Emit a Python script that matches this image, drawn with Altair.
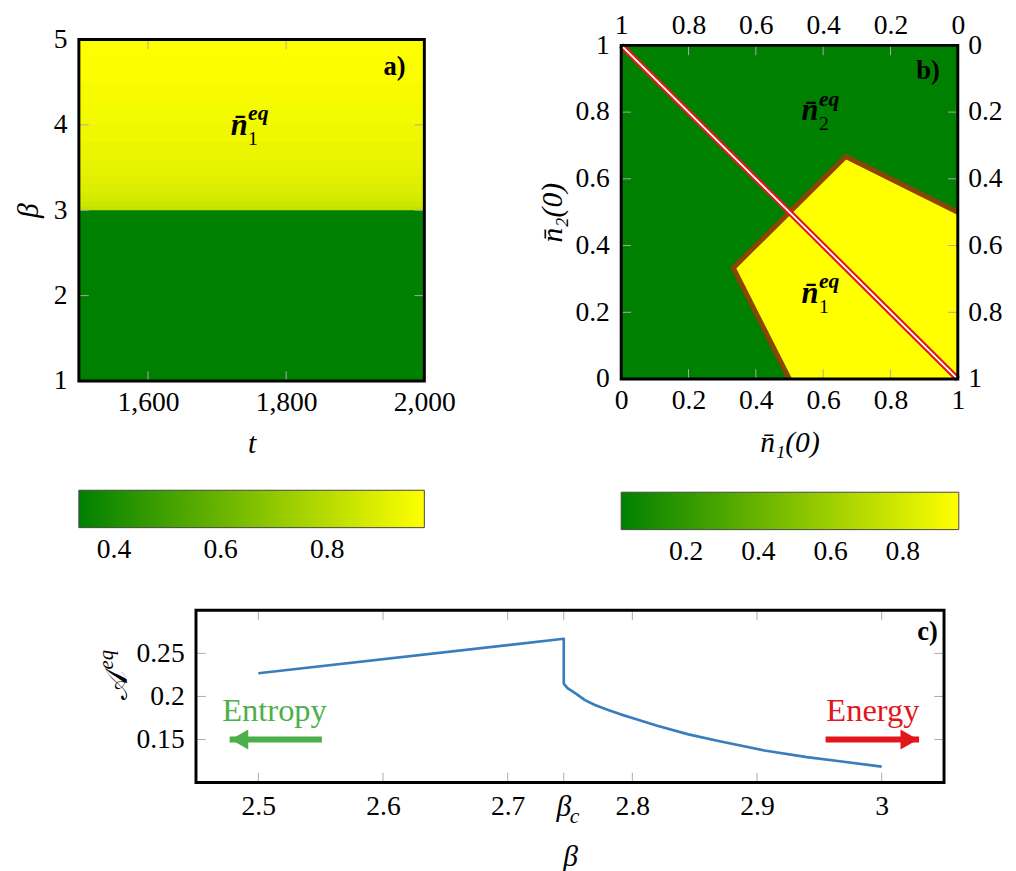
import altair as alt
import pandas as pd

FONT = "Liberation Serif"
GREEN = "#008000"
YELLOW = "#ffff00"
BROWN = "#8b4500"
RED = "#e3161c"
BLUE = "#3a7dbd"
ENT_GREEN = "#4daf4a"
TICK_GREY = "#aaaaaa"
LABEL_SIZE = 28

# ---------------- Panel a: n1_eq over (t, beta) ----------------
a_t_domain = [1500, 2000]
a_beta_domain = [1, 5]
a_low_beta = 1.0
a_low_n1 = 0.334
a_grad_beta = [3.0, 3.05, 3.1, 3.15, 3.2, 3.3, 3.4, 3.5, 3.6, 3.8, 4.0, 4.25, 4.5, 4.75]
a_grad_n1 = [0.835, 0.855, 0.868, 0.879, 0.89, 0.902, 0.913, 0.922, 0.932, 0.945, 0.955, 0.964, 0.972, 0.978]
a_cbar_domain = [0.334, 0.982]
a_cbar_ticks = [0.4, 0.6, 0.8]
a_x_ticks = [1600, 1800, 2000]
a_y_ticks = [1, 2, 3, 4, 5]
a_x_inner = [1600, 1800]
a_y_inner = [2, 3, 4]
a_label_pos = [1732, 3.88]
a_tag_pos = [1973, 4.58]

# ---------------- Panel b: basins over (n1(0), n2(0)) ----------------
b_domain = [0, 1]
b_region_x = [0.333, 0.5, 0.667, 1.0]
b_region_lo = [0.333, 0.0, 0.0, 0.0]
b_region_hi = [0.333, 0.5, 0.667, 0.5]
b_border_x = [0.5, 0.333, 0.667, 1.0]
b_border_y = [0.0, 0.333, 0.667, 0.5]
b_diag_x = [0.0, 1.0]
b_diag_y = [1.0, 0.0]
b_cbar_domain = [0.02, 0.955]
b_cbar_ticks = [0.2, 0.4, 0.6, 0.8]
b_ticks = [0, 0.2, 0.4, 0.6, 0.8, 1]
b_inner = [0.2, 0.4, 0.6, 0.8]
b_label2_pos = [0.561, 0.775]
b_label1_pos = [0.561, 0.228]
b_tag_pos = [0.947, 0.90]

# ---------------- Panel c: A_eq vs beta ----------------
c_beta = [2.5, 2.745, 2.745, 2.748, 2.755, 2.762, 2.77, 2.78, 2.79, 2.80, 2.82, 2.845, 2.87, 2.906, 2.94, 2.968, 3.0]
c_A = [0.227, 0.267, 0.215, 0.2097, 0.203, 0.1957, 0.190, 0.1845, 0.1795, 0.175, 0.166, 0.156, 0.148, 0.1372, 0.1295, 0.1245, 0.1185]
beta_c = 2.745
c_x_domain = [2.45, 3.05]
c_y_domain = [0.1, 0.3]
c_x_ticks = [2.5, 2.6, 2.7, 2.8, 2.9, 3.0]
c_x_inner = [2.5, 2.6, 2.7, 2.745, 2.8, 2.9, 3.0]
c_y_ticks = [0.15, 0.2, 0.25]
c_tag_pos = [3.045, 0.265]
entropy_arrow = {"from": 2.551, "to": 2.477, "y": 0.15}
energy_arrow = {"from": 2.955, "to": 3.03, "y": 0.15}
entropy_text = {"x": 2.513, "y": 0.171, "text": "Entropy"}
energy_text = {"x": 2.993, "y": 0.171, "text": "Energy"}

# ---------------- sizes ----------------
W_A, H_A = 351, 347
W_B, H_B = 342, 347          # group height of panel b
B_Y0, B_Y1 = 6, 345          # panel b frame sits between these pixel rows of its group
W_C, H_C = 760, 175
TICK_LEN = 10


def frame(w, y0, y1):
    return alt.Chart(pd.DataFrame({"d": [0]})).mark_rect(
        fillOpacity=0, stroke="black", strokeWidth=3
    ).encode(x=alt.value(0), x2=alt.value(w), y=alt.value(y0), y2=alt.value(y1))


def inner_ticks(vals, field_scale, orient, w, y0, y1):
    df = pd.DataFrame({"v": vals})
    base = alt.Chart(df).mark_rule(color=TICK_GREY, strokeWidth=1)
    if orient == "x":
        enc_bot = base.encode(x=alt.X("v:Q", scale=field_scale, axis=None),
                              y=alt.value(y1), y2=alt.value(y1 - TICK_LEN))
        enc_top = base.encode(x=alt.X("v:Q", scale=field_scale, axis=None),
                              y=alt.value(y0), y2=alt.value(y0 + TICK_LEN))
    else:
        enc_bot = base.encode(y=alt.Y("v:Q", scale=field_scale, axis=None),
                              x=alt.value(0), x2=alt.value(TICK_LEN))
        enc_top = base.encode(y=alt.Y("v:Q", scale=field_scale, axis=None),
                              x=alt.value(w), x2=alt.value(w - TICK_LEN))
    return [enc_bot, enc_top]


def text_at(pos, text, xs, ys, size, dx=0, dy=0, weight="bold", style="italic",
            color="black", align="center", baseline="alphabetic"):
    df = pd.DataFrame({"x": [pos[0]], "y": [pos[1]], "s": [text]})
    return alt.Chart(df).mark_text(
        font=FONT, fontSize=size, fontWeight=weight, fontStyle=style, color=color,
        align=align, baseline=baseline, dx=dx, dy=dy
    ).encode(x=alt.X("x:Q", scale=xs, axis=None), y=alt.Y("y:Q", scale=ys, axis=None),
             text="s:N")


def neq_label(pos, sub, xs, ys):
    return [
        text_at(pos, "n\u0304", xs, ys, 31),
        text_at(pos, "eq", xs, ys, 22, dx=9, dy=-15, align="left"),
        text_at(pos, sub, xs, ys, 20, dx=9, dy=10, align="left", weight="normal", style="normal"),
    ]


def cbar_legend(length, y, ticks):
    return alt.Legend(orient="none", direction="horizontal", legendX=0, legendY=y,
                      gradientLength=length, gradientThickness=38, values=ticks, title=None,
                      labelFont=FONT, labelFontSize=LABEL_SIZE, labelColor="black", labelOffset=9,
                      gradientStrokeColor="#444444", gradientStrokeWidth=1)


# ================= Panel a =================
xs_a = alt.Scale(domain=a_t_domain, nice=False, zero=False)
ys_a = alt.Scale(domain=a_beta_domain, nice=False, zero=False)
# each band starts at its beta and runs to the top; later (higher) bands paint over earlier ones
strip_b0 = [a_low_beta] + a_grad_beta
strip_v = [a_low_n1] + a_grad_n1
df_a = pd.DataFrame({"t0": a_t_domain[0], "t1": a_t_domain[1], "b0": strip_b0,
                     "b1": a_beta_domain[1], "v": strip_v})

fill_a = alt.Chart(df_a).mark_rect().encode(
    x=alt.X("t0:Q", scale=xs_a, axis=alt.Axis(values=a_x_ticks, format=",d", title="t",
                                               labelPadding=8, titlePadding=13)),
    x2="t1",
    y=alt.Y("b0:Q", scale=ys_a, axis=alt.Axis(values=a_y_ticks, format="d", title="β",
                                               labelPadding=12, titlePadding=10)),
    y2="b1",
    color=alt.Color("v:Q", scale=alt.Scale(domain=a_cbar_domain, range=[GREEN, YELLOW], interpolate="rgb"),
                    legend=cbar_legend(W_A, 458, a_cbar_ticks)),
)
panel_a = alt.layer(
    fill_a,
    *inner_ticks(a_x_inner, xs_a, "x", W_A, 0, H_A),
    *inner_ticks(a_y_inner, ys_a, "y", W_A, 0, H_A),
    *neq_label(a_label_pos, "1", xs_a, ys_a),
    text_at(a_tag_pos, "a)", xs_a, ys_a, 27, style="normal", align="right"),
    frame(W_A, 0, H_A),
).resolve_axis(x="independent", y="independent").properties(width=W_A, height=H_A)

# ================= Panel b =================
xs_b = alt.Scale(domain=b_domain, nice=False, zero=False)
ys_b = alt.Scale(domain=b_domain, nice=False, zero=False, range=[B_Y1, B_Y0])
legend_b = cbar_legend(W_B + 1, 460, b_cbar_ticks)
scale_cb = alt.Scale(domain=b_cbar_domain, range=[GREEN, YELLOW], interpolate="rgb")
df_bg = pd.DataFrame({"x0": [0.0], "x1": [1.0], "y0": [0.0], "y1": [1.0], "v": [b_cbar_domain[0]]})
bg_b = alt.Chart(df_bg).mark_rect().encode(
    x=alt.X("x0:Q", scale=xs_b, axis=alt.Axis(values=b_ticks, format=".1~f", title="n\u0304\u2081(0)",
                                               labelPadding=6, titlePadding=14)),
    x2="x1",
    y=alt.Y("y0:Q", scale=ys_b, axis=alt.Axis(values=b_ticks, format=".1~f", title="n\u0304\u2082(0)",
                                               labelPadding=12, titlePadding=8)),
    y2="y1",
    color=alt.Color("v:Q", scale=scale_cb, legend=legend_b),
)
df_reg = pd.DataFrame({"x": b_region_x, "lo": b_region_lo, "hi": b_region_hi, "v": b_cbar_domain[1]})
area_b = alt.Chart(df_reg).mark_area(opacity=1).encode(
    x=alt.X("x:Q", scale=xs_b, axis=None),
    y=alt.Y("lo:Q", scale=ys_b, axis=None),
    y2="hi",
    color=alt.Color("v:Q", scale=scale_cb, legend=legend_b),
)
df_border = pd.DataFrame({"x": b_border_x, "y": b_border_y, "i": range(len(b_border_x))})
border_b = alt.Chart(df_border).mark_line(color=BROWN, strokeWidth=5, strokeJoin="round", strokeCap="butt").encode(
    x=alt.X("x:Q", scale=xs_b, axis=None), y=alt.Y("y:Q", scale=ys_b, axis=None), order="i:Q")
df_diag = pd.DataFrame({"x": b_diag_x, "y": b_diag_y})
label_expr = "format(1 - datum.value, '.1~f')"
diag_red = alt.Chart(df_diag).mark_line(color=RED, strokeWidth=6).encode(
    x=alt.X("x:Q", scale=xs_b, axis=alt.Axis(orient="top", values=b_ticks, labelExpr=label_expr,
                                              title=None, labelPadding=0)),
    y=alt.Y("y:Q", scale=ys_b, axis=alt.Axis(orient="right", values=b_ticks, labelExpr=label_expr,
                                              title=None, labelPadding=10)),
)
diag_white = alt.Chart(df_diag).mark_line(color="white", strokeWidth=1.8).encode(
    x=alt.X("x:Q", scale=xs_b, axis=None), y=alt.Y("y:Q", scale=ys_b, axis=None))
panel_b = alt.layer(
    bg_b, area_b, border_b,
    *inner_ticks(b_inner, xs_b, "x", W_B, B_Y0, B_Y1),
    *inner_ticks(b_inner, ys_b, "y", W_B, B_Y0, B_Y1),
    diag_red, diag_white,
    *neq_label(b_label2_pos, "2", xs_b, ys_b),
    *neq_label(b_label1_pos, "1", xs_b, ys_b),
    text_at(b_tag_pos, "b)", xs_b, ys_b, 27, style="normal", align="right"),
    frame(W_B, B_Y0, B_Y1),
).resolve_axis(x="independent", y="independent").properties(width=W_B, height=H_B)

# ================= Panel c =================
xs_c = alt.Scale(domain=c_x_domain, nice=False, zero=False)
ys_c = alt.Scale(domain=c_y_domain, nice=False, zero=False)
df_c = pd.DataFrame({"b": c_beta, "A": c_A, "i": range(len(c_beta))})
line_c = alt.Chart(df_c).mark_line(color=BLUE, strokeWidth=2.7, strokeJoin="round").encode(
    x=alt.X("b:Q", scale=xs_c, axis=alt.Axis(values=c_x_ticks, format="~g", title="β",
                                             labelPadding=10, titlePadding=22)),
    y=alt.Y("A:Q", scale=ys_c, axis=alt.Axis(values=c_y_ticks, format="~g", title=None,
                                            labelPadding=12)),
    order="i:Q",
)


def arrow(spec, color, shape, off):
    df = pd.DataFrame({"x": [spec["from"], spec["to"]], "y": [spec["y"], spec["y"]]})
    shaft = alt.Chart(df).mark_line(color=color, strokeWidth=6).encode(
        x=alt.X("x:Q", scale=xs_c, axis=None), y=alt.Y("y:Q", scale=ys_c, axis=None))
    dfh = pd.DataFrame({"x": [spec["to"]], "y": [spec["y"]]})
    head = alt.Chart(dfh).mark_point(shape=shape, filled=True, size=420, color=color, opacity=1,
                                     xOffset=off).encode(
        x=alt.X("x:Q", scale=xs_c, axis=None), y=alt.Y("y:Q", scale=ys_c, axis=None))
    return [shaft, head]


def word(spec, color):
    return text_at([spec["x"], spec["y"]], spec["text"], xs_c, ys_c, 33, weight="normal",
                   style="normal", color=color)


df_bc = pd.DataFrame({"x": [beta_c]})
betac_b = alt.Chart(df_bc).mark_text(text="β", font=FONT, fontSize=30, fontStyle="italic",
                                     baseline="alphabetic", align="center").encode(
    x=alt.X("x:Q", scale=xs_c, axis=None), y=alt.value(H_C + 34))
betac_c = alt.Chart(df_bc).mark_text(text="c", font=FONT, fontSize=22, fontStyle="italic",
                                     baseline="alphabetic", align="left", dx=6, dy=7).encode(
    x=alt.X("x:Q", scale=xs_c, axis=None), y=alt.value(H_C + 34))
df_one = pd.DataFrame({"d": [0]})
ytitle_A = alt.Chart(df_one).mark_text(text="𝒜", font=FONT, fontSize=32, angle=270,
                                       align="center", baseline="alphabetic").encode(
    x=alt.value(-70), y=alt.value(76))
ytitle_eq = alt.Chart(df_one).mark_text(text="eq", font=FONT, fontSize=21, fontStyle="italic",
                                        angle=270, align="left", baseline="alphabetic").encode(
    x=alt.value(-84), y=alt.value(60))

panel_c = alt.layer(
    line_c,
    *inner_ticks(c_x_inner, xs_c, "x", W_C, 0, H_C),
    *inner_ticks(c_y_ticks, ys_c, "y", W_C, 0, H_C),
    *arrow(entropy_arrow, ENT_GREEN, "triangle-left", 10),
    *arrow(energy_arrow, RED, "triangle-right", -10),
    word(entropy_text, ENT_GREEN),
    word(energy_text, RED),
    text_at(c_tag_pos, "c)", xs_c, ys_c, 27, style="normal", align="right"),
    betac_b, betac_c, ytitle_A, ytitle_eq,
    frame(W_C, 0, H_C),
).resolve_axis(x="independent", y="independent").properties(width=W_C, height=H_C)

spacer = alt.Chart(df_one).mark_point(opacity=0).encode(
    x=alt.value(0), y=alt.value(0)).properties(width=16, height=10)

top = alt.hconcat(panel_a, panel_b, spacing=82).resolve_scale(color="independent")
bottom = alt.hconcat(spacer, panel_c, spacing=0)

chart = alt.vconcat(top, bottom, spacing=40).resolve_scale(color="independent").configure(
    font=FONT, padding={"left": 5, "top": -4, "right": 5, "bottom": 0}
).configure_view(stroke="transparent").configure_axis(
    labelFont=FONT, labelFontSize=LABEL_SIZE, labelColor="black", titleFont=FONT, titleFontSize=30,
    titleFontWeight="normal", titleFontStyle="italic", titleColor="black", domain=False,
    ticks=False, grid=False, labelFlush=False, labelOverlap=False,
)

chart.save("out.html", embed_options={"renderer": "svg", "actions": False})
